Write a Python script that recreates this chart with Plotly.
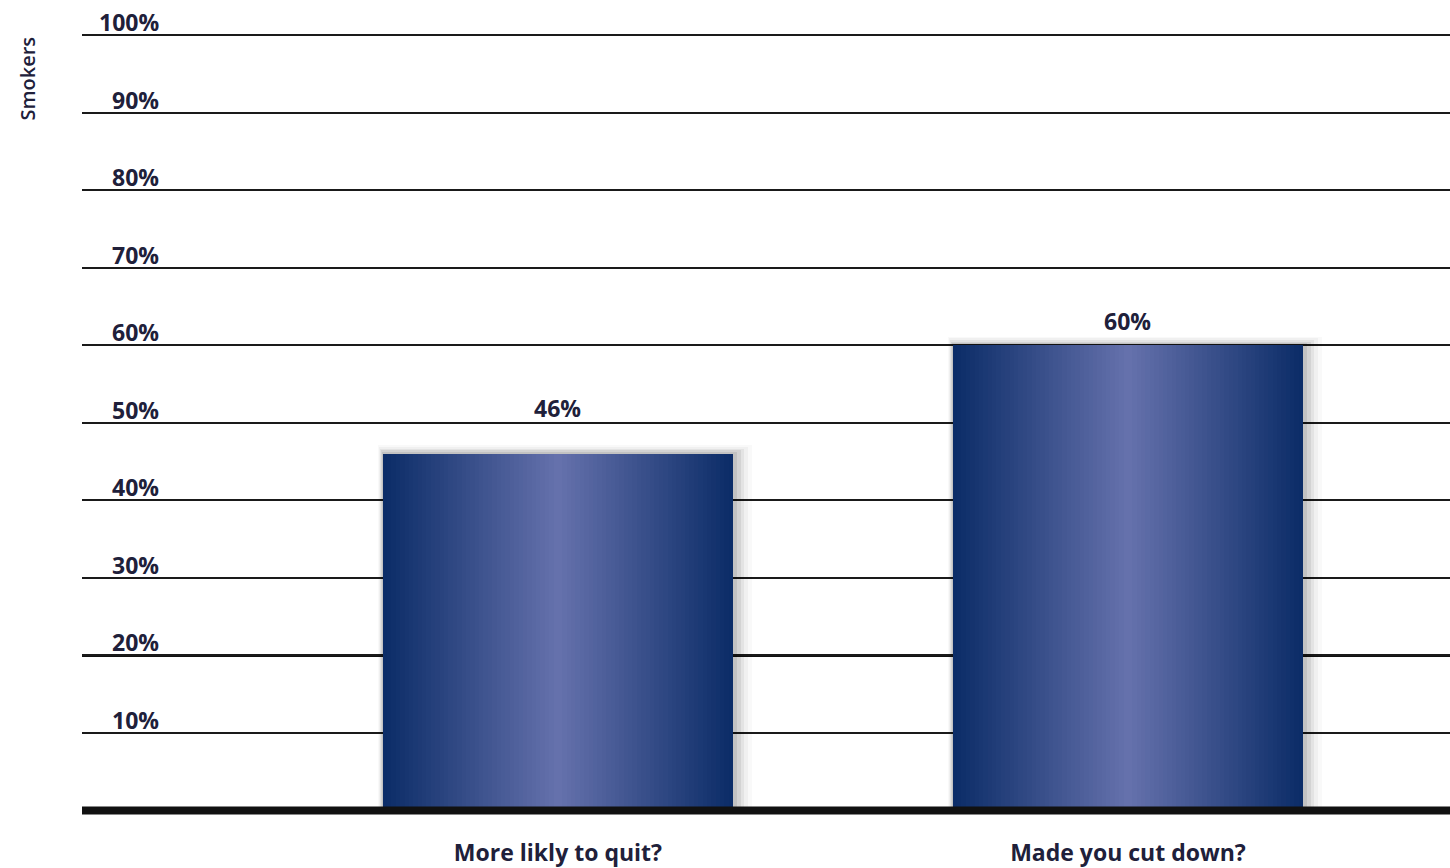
import plotly.graph_objects as go

categories = ["More likly to quit?", "Made you cut down?"]
values = [46, 60]
value_labels = ["46%", "60%"]
tick_vals = [10, 20, 30, 40, 50, 60, 70, 80, 90, 100]
tick_labels = ["10%", "20%", "30%", "40%", "50%", "60%", "70%", "80%", "90%", "100%"]
axis_title = "Smokers"

# style
label_offsets_px = [46, 24]
BAR_W = 0.615
EDGE = (12, 45, 104)
CENTER = (101, 113, 172)
N = 40
FONT = "Open Sans"
TXT = "#20203a"

fig = go.Figure()

# soft shadow
for k, a in [(5, 0.025), (4, 0.035), (3, 0.05), (2, 0.065), (1, 0.08)]:
    fig.add_trace(go.Bar(
        x=categories, y=[v + 0.22 * k for v in values],
        width=BAR_W + 0.008 * k, offset=-(BAR_W / 2) - 0.0015 * k,
        marker=dict(color=f"rgba(0,0,0,{a})", line=dict(width=0)),
        hoverinfo="skip", showlegend=False,
    ))

# gradient bars: nested layers, dark edges to light centre
for i in range(N):
    t = i / (N - 1)
    c = tuple(int(EDGE[j] + (CENTER[j] - EDGE[j]) * t) for j in range(3))
    w = BAR_W * (1 - i / N)
    fig.add_trace(go.Bar(
        x=categories, y=values, width=w,
        marker=dict(color=f"rgb{c}", line=dict(width=0)),
        hoverinfo="skip", showlegend=False,
    ))

annotations = []
for cat, v, lab, off in zip(categories, values, value_labels, label_offsets_px):
    annotations.append(dict(
        x=cat, y=v, text=lab, showarrow=False, yshift=off,
        font=dict(family=FONT, size=23, color=TXT, weight="bold"),
    ))
for tv, tl in zip(tick_vals, tick_labels):
    annotations.append(dict(
        xref="paper", x=(161 - 82) / 1368, xanchor="right", y=tv, yshift=13,
        text=tl, showarrow=False,
        font=dict(family=FONT, size=23, color=TXT, weight="bold"),
    ))
annotations.append(dict(
    xref="paper", yref="paper", x=-54 / 1368, y=0.998, yanchor="top", xanchor="center",
    text=axis_title, textangle=-90, showarrow=False,
    font=dict(family=FONT, size=20, color=TXT, weight=600),
))

fig.update_layout(
    width=1450, height=868,
    margin=dict(l=82, r=0, t=33, b=47),
    paper_bgcolor="white", plot_bgcolor="white",
    barmode="overlay", bargap=0,
    showlegend=False,
    annotations=annotations,
    shapes=[
        dict(type="line", xref="paper", x0=0, x1=1, y0=20, y1=20,
             line=dict(color="#111111", width=3), layer="below"),
        dict(type="line", xref="paper", x0=0, x1=1, y0=0, y1=0,
             line=dict(color="#111111", width=8), layer="above"),
    ],
    xaxis=dict(
        range=[-0.835, 1.565], showgrid=False, zeroline=False, showline=False,
        ticks="", ticklabelstandoff=21,
        tickfont=dict(family=FONT, size=23, color=TXT, weight="bold"),
    ),
    yaxis=dict(
        range=[-0.7, 100.25], tickvals=tick_vals, showticklabels=False,
        showgrid=True, gridcolor="#1a1a1a", gridwidth=1.5,
        zeroline=False, showline=False, ticks="",
    ),
)

fig.write_html(
    "out.html",
    config={"displayModeBar": False},
    post_script="document.body.style.margin='0';document.body.style.overflow='hidden';",
)
